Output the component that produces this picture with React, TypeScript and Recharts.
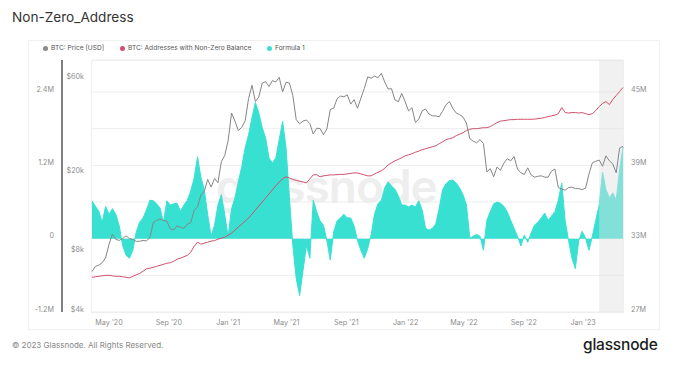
import React from "react";
import {
  ComposedChart,
  Line,
  Area,
  XAxis,
  YAxis,
  CartesianGrid,
  ReferenceArea,
} from "recharts";

// weekly samples, first one on 27 Mar 2020
const START = Date.UTC(2020, 2, 27);
const WEEK = 7 * 24 * 3600 * 1000;

// BTC price, thousands of USD
const priceK = [
  6.4, 6.8, 6.9, 7.1, 7.5, 8.8, 9.9, 9.3, 9.2, 9.4, 9.7, 9.4, 9.3, 9.1, 9.1, 9.2, 9.15, 9.5, 11.3, 11.6,
  11.8, 11.6, 11.5, 10.5, 10.4, 10.9, 10.7, 10.6, 11.1, 11.3, 13.0, 13.6, 15.6, 16.3, 18.7, 17.1, 18.9, 18.0, 23.0, 24.7,
  29.4, 40.5, 36.8, 33.0, 34.3, 37.0, 47.9, 55.9, 46.3, 48.8, 57.3, 58.3, 55.1, 59.0, 58.1, 61.3, 51.7, 57.8, 57.4, 49.7,
  37.5, 35.7, 36.9, 37.3, 35.8, 31.7, 33.9, 33.8, 31.5, 33.6, 42.2, 42.8, 47.8, 49.3, 48.9, 50.0, 44.9, 47.3, 42.8, 48.1,
  53.9, 61.6, 60.7, 62.2, 61.0, 64.2, 58.1, 53.5, 53.7, 47.1, 46.2, 50.8, 46.2,
  41.5, 43.1, 36.3, 37.7, 41.6, 42.4, 40.0, 39.2, 39.1, 38.8, 41.3, 44.5, 46.3, 42.7, 40.5, 39.7, 38.6, 36.0, 30.0, 29.2,
  28.6, 29.7, 28.4, 20.4, 21.2, 19.3, 21.6, 20.8, 22.6, 23.8, 23.2, 24.4, 21.1, 20.2, 19.8, 21.4, 19.7, 19.2, 19.4, 19.5,
  19.2, 19.2, 20.6, 21.1, 17.0, 16.7, 16.5, 17.0, 17.1, 16.8, 16.8, 16.6,
  16.9, 19.9, 22.7, 23.1, 23.4, 21.8, 24.6, 23.2, 22.4, 20.2, 26.9, 27.5,
];

// addresses with non-zero balance, millions
const addressesM = [
  29.84, 29.88, 29.92, 29.96, 30.0, 30.0, 29.96, 29.92, 29.92, 29.88,
  29.84, 29.79, 29.92, 30.04, 30.16, 30.33, 30.53, 30.58, 30.66, 30.74,
  30.82, 30.9, 30.99, 31.03, 31.15, 31.32, 31.4, 31.52, 31.64, 31.89,
  32.38, 32.71, 32.55, 32.63, 32.71, 32.8, 32.84, 32.96, 33.04, 33.12,
  33.29, 33.45, 33.7, 33.95, 34.19, 34.44, 34.69, 35.01, 35.34, 35.67,
  36.0, 36.33, 36.66, 36.99, 37.32, 37.64, 37.89, 38.06, 37.97, 37.85,
  37.77, 37.7, 37.64, 37.56, 37.89, 38.22, 38.24, 38.06, 38.14, 38.18,
  38.22, 38.22, 38.24, 38.26, 38.26, 38.3, 38.34, 38.38, 38.38, 38.3,
  38.22, 38.14, 38.14, 38.3, 38.43, 38.55, 38.75, 39.04, 39.21, 39.37,
  39.49, 39.62, 39.78, 39.86, 39.95, 40.07, 40.17, 40.28, 40.36, 40.44,
  40.52, 40.6, 40.77, 40.93, 41.1, 41.18, 41.26, 41.43, 41.55, 41.67,
  41.84, 41.96, 42.0, 42.0, 42.04, 42.08, 42.08, 42.17, 42.33, 42.49,
  42.62, 42.66, 42.7, 42.74, 42.74, 42.77, 42.77, 42.77, 42.77, 42.77,
  42.78, 42.82, 42.86, 42.91, 42.99, 43.05, 43.11, 43.23, 43.73, 43.32,
  43.28, 43.32, 43.32, 43.28, 43.32, 43.23, 43.15, 43.23, 43.48, 43.81,
  44.06, 44.22, 43.97, 44.39, 44.71, 45.04, 45.37,
];

// Formula 1, millions
const formulaM = [
  0.62, 0.53, 0.45, 0.27, 0.53, 0.4, 0.49, 0.4, 0.21, -0.11,
  -0.27, -0.32, -0.19, 0.11, 0.27, 0.34, 0.47, 0.63, 0.62, 0.57,
  0.5, 0.27, 0.62, 0.55, 0.57, 0.58, 0.45, 0.55, 0.63, 0.78,
  0.99, 1.34, 1.0, 0.8, 0.39, 0.04, 0.22, 0.55, 0.72, 0.39,
  0.04, 0.49, 0.67, 0.93, 1.18, 1.49, 1.7, 1.98, 2.23, 2.06,
  1.82, 1.65, 1.32, 1.24, 1.32, 1.62, 1.92, 1.49, 0.67, -0.11,
  -0.65, -0.93, -0.52, -0.11, -0.32, 0.63, 0.44, 0.29, 0.22, -0.03,
  -0.35, 0.11, 0.29, 0.34, 0.4, 0.34, 0.34, 0.21, -0.03, -0.19,
  -0.32, -0.16, 0.06, 0.4, 0.57, 0.63, 0.83, 0.93, 0.86, 0.81,
  0.7, 0.55, 0.55, 0.52, 0.55, 0.52, 0.62, 0.47, 0.17, 0.14,
  0.17, 0.24, 0.5, 0.8, 0.9, 0.95, 0.96, 0.91, 0.83, 0.72,
  0.55, 0.01, 0.04, 0.07, 0.04, -0.19, 0.3, 0.44, 0.57, 0.6,
  0.58, 0.53, 0.44, 0.3, 0.17, 0.04, -0.12, 0.06, -0.06, 0.09,
  0.22, 0.27, 0.34, 0.42, 0.3, 0.37, 0.44, 0.63, 0.91, 0.3,
  -0.03, -0.32, -0.49, -0.03, 0.12, 0.01, -0.19, 0.04, 0.3, 0.55,
  1.09, 0.8, 0.67, 0.75, 0.63, 1.13, 1.5,
];

const xTicks = [
  Date.UTC(2020, 4, 1), Date.UTC(2020, 8, 1), Date.UTC(2021, 0, 1),
  Date.UTC(2021, 4, 1), Date.UTC(2021, 8, 1), Date.UTC(2022, 0, 1),
  Date.UTC(2022, 4, 1), Date.UTC(2022, 8, 1), Date.UTC(2023, 0, 1),
];
const xTickLabels = ["May '20", "Sep '20", "Jan '21", "May '21", "Sep '21", "Jan '22", "May '22", "Sep '22", "Jan '23"];

const priceTicks = [4000, 8000, 20000, 60000];
const formulaTicks = [-1.2e6, -0.6e6, 0, 0.6e6, 1.2e6, 1.8e6, 2.4e6];
const formulaLabels: Record<number, string> = { [-1.2e6]: "-1.2M", 0: "0", [1.2e6]: "1.2M", [2.4e6]: "2.4M" };
const addrTicks = [27e6, 33e6, 39e6, 45e6];

const recentFrom = Date.UTC(2023, 1, 3);
const END = START + (priceK.length - 1) * WEEK;

const data = priceK.map((p, i) => ({
  t: START + i * WEEK,
  price: p * 1000,
  addresses: addressesM[i] * 1e6,
  formula: formulaM[i] * 1e6,
}));

const FONT = "Inter, 'Noto Sans', sans-serif";
const tickStyle = { fontSize: 7.2, fill: "#8d8d8d", fontFamily: FONT };
const yTickStyle = { ...tickStyle, dy: -3 };

function LegendItem({ x, color, label }: { x: number; color: string; label: string }) {
  return (
    <div style={{ position: "absolute", left: x, top: 44, display: "flex", alignItems: "center", fontSize: 6.6, color: "#555", whiteSpace: "nowrap" }}>
      <span style={{ width: 5, height: 5, borderRadius: 3, background: color, marginRight: 3 }} />
      {label}
    </div>
  );
}

export default function App() {
  return (
    <div style={{ position: "fixed", left: 0, top: 0, width: 683, height: 366, background: "#fff", fontFamily: FONT, overflow: "hidden" }}>
      <div style={{ position: "absolute", left: 12, top: 9, fontSize: 13.6, color: "#333" }}>Non-Zero_Address</div>
      <div style={{ position: "absolute", left: 28, top: 40, width: 632, height: 290, border: "1px solid #f0f0f0", boxSizing: "border-box" }} />
      <LegendItem x={43} color="#8a8a8a" label="BTC: Price [USD]" />
      <LegendItem x={120} color="#d2506a" label="BTC: Addresses with Non-Zero Balance" />
      <LegendItem x={267} color="#38e0d2" label="Formula 1" />
      <div style={{ position: "absolute", left: 91, top: 60, width: 533, height: 253, border: "1px solid #efefef", boxSizing: "border-box" }} />
      <div style={{ position: "absolute", left: 216, top: 158, fontSize: 46, fontWeight: 600, color: "#eeeeee", letterSpacing: -1 }}>glassnode</div>

      <div style={{ position: "absolute", left: 0, top: 0 }}>
        <ComposedChart width={683} height={366} data={data} margin={{ top: 60, right: 20, bottom: 24, left: 22 }}>
          <CartesianGrid vertical={false} yAxisId="b" stroke="#ededed" />
          <XAxis
            dataKey="t"
            type="number"
            scale="time"
            domain={[START, END]}
            ticks={xTicks}
            tickFormatter={(v: number) => xTickLabels[xTicks.indexOf(v)] ?? ""}
            tick={tickStyle}
            axisLine={false}
            tickLine={false}
            height={30}
          />
          {/* price: inner left axis */}
          <YAxis
            yAxisId="a"
            orientation="left"
            scale="log"
            domain={[4000, 75000]}
            allowDataOverflow
            ticks={priceTicks}
            tickFormatter={(v: number) => `$${v / 1000}k`}
            tick={yTickStyle}
            axisLine={false}
            tickLine={false}
            width={30}
            interval={0}
          />
          {/* formula: outer left axis */}
          <YAxis
            yAxisId="b"
            orientation="left"
            domain={[-1.2e6, 2.924e6]}
            allowDataOverflow
            ticks={formulaTicks}
            tickFormatter={(v: number) => formulaLabels[v] ?? ""}
            tick={yTickStyle}
            axisLine={{ stroke: "#555", strokeWidth: 1.5 }}
            tickLine={false}
            width={40}
            interval={0}
          />
          <YAxis
            yAxisId="c"
            orientation="right"
            domain={[27e6, 47.62e6]}
            allowDataOverflow
            ticks={addrTicks}
            tickFormatter={(v: number) => `${v / 1e6}M`}
            tick={{ ...yTickStyle, textAnchor: "start" }}
            axisLine={false}
            tickLine={false}
            width={40}
            interval={0}
          />
          <Line yAxisId="c" dataKey="addresses" type="linear" stroke="#d2506a" strokeWidth={1} dot={false} isAnimationActive={false} />
          <Area
            yAxisId="b"
            dataKey="formula"
            type="linear"
            baseValue={0}
            stroke="#38e0d2"
            strokeWidth={1}
            fill="#38e0d2"
            fillOpacity={1}
            dot={false}
            isAnimationActive={false}
          />
          <Line yAxisId="a" dataKey="price" type="linear" stroke="#858585" strokeWidth={1} dot={false} isAnimationActive={false} />
          <ReferenceArea yAxisId="b" x1={recentFrom} x2={END} fill="#e0e0e0" fillOpacity={0.45} stroke="none" />
        </ComposedChart>
      </div>

      <div style={{ position: "absolute", left: 12, top: 340, fontSize: 8, color: "#888" }}>© 2023 Glassnode. All Rights Reserved.</div>
      <div style={{ position: "absolute", left: 583, top: 335, fontSize: 15.5, fontWeight: 500, color: "#1c1c1c", letterSpacing: -0.2 }}>glassnode</div>
    </div>
  );
}
